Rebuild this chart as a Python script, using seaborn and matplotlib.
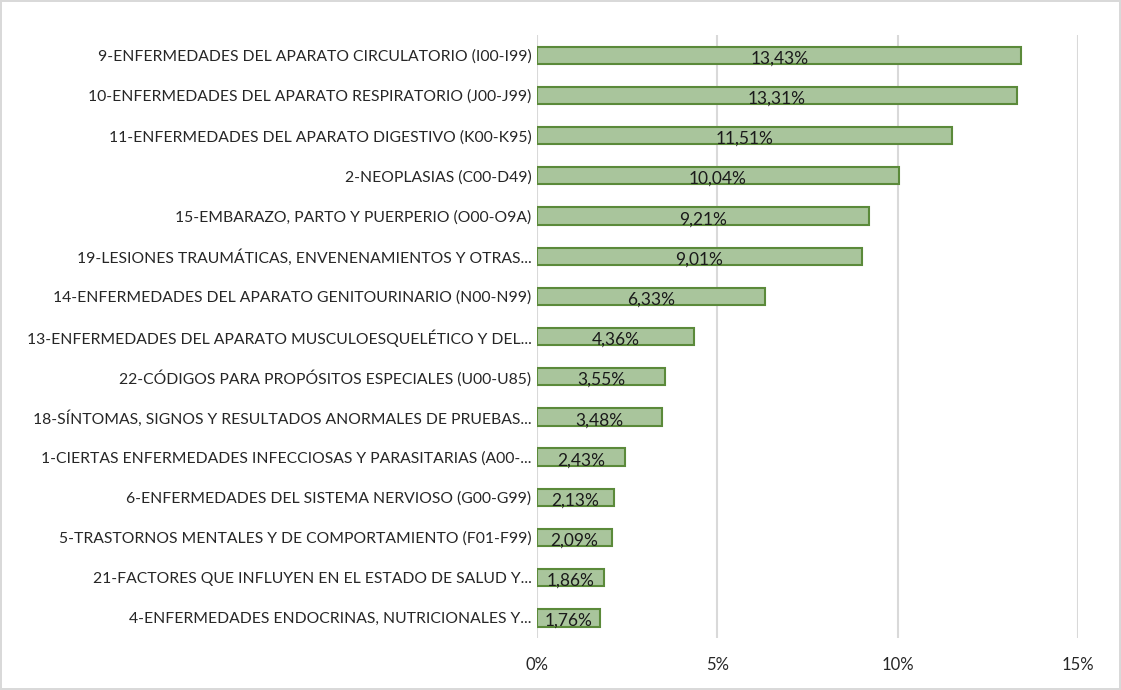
import pandas as pd
import numpy as np
import matplotlib
matplotlib.use("Agg")
import matplotlib.pyplot as plt
import seaborn as sns
from matplotlib.ticker import FuncFormatter

categorias = [
    "9-ENFERMEDADES DEL APARATO CIRCULATORIO (I00-I99)",
    "10-ENFERMEDADES DEL APARATO RESPIRATORIO (J00-J99)",
    "11-ENFERMEDADES DEL APARATO DIGESTIVO (K00-K95)",
    "2-NEOPLASIAS (C00-D49)",
    "15-EMBARAZO, PARTO Y PUERPERIO (O00-O9A)",
    "19-LESIONES TRAUMÁTICAS, ENVENENAMIENTOS Y OTRAS...",
    "14-ENFERMEDADES DEL APARATO GENITOURINARIO (N00-N99)",
    "13-ENFERMEDADES DEL APARATO MUSCULOESQUELÉTICO Y DEL...",
    "22-CÓDIGOS PARA PROPÓSITOS ESPECIALES (U00-U85)",
    "18-SÍNTOMAS, SIGNOS Y RESULTADOS ANORMALES DE PRUEBAS...",
    "1-CIERTAS ENFERMEDADES INFECCIOSAS Y PARASITARIAS (A00-...",
    "6-ENFERMEDADES DEL SISTEMA NERVIOSO (G00-G99)",
    "5-TRASTORNOS MENTALES Y DE COMPORTAMIENTO (F01-F99)",
    "21-FACTORES QUE INFLUYEN EN EL ESTADO DE SALUD Y...",
    "4-ENFERMEDADES ENDOCRINAS, NUTRICIONALES Y...",
]
porcentajes = [13.43, 13.31, 11.51, 10.04, 9.21, 9.01, 6.33, 4.36, 3.55, 3.48,
               2.43, 2.13, 2.09, 1.86, 1.76]

df = pd.DataFrame({"Categoria": categorias, "Porcentaje": porcentajes})

sns.set_theme(style="white")
plt.rcParams["font.family"] = ["Lato", "DejaVu Sans"]

fig = plt.figure(figsize=(11.21, 6.9), dpi=100, linewidth=1.5, edgecolor="#d9d9d9")
ax = fig.add_axes([0.479, 0.0754, 0.4827, 0.8736])

sns.barplot(data=df, x="Porcentaje", y="Categoria", ax=ax, color="#a9c59c",
            edgecolor="#5b8a3a", linewidth=1.5, width=0.43, saturation=1)

# value labels inside the bars
for i, v in enumerate(porcentajes):
    ax.text(v / 2, i + 0.08, f"{v:.2f}%".replace(".", ","), ha="center", va="center",
            fontsize=12.5, color="#1a1a1a")

ax.set_xlim(0, 15)
ax.set_ylim(14.5, -0.5)
ax.set_xticks([0, 5, 10, 15])
ax.xaxis.set_major_formatter(FuncFormatter(lambda x, p: f"{x:.0f}%"))
ax.grid(axis="x", color="#d9d9d9", linewidth=1.5)
ax.set_axisbelow(True)
for s in ax.spines.values():
    s.set_visible(False)
ax.set_xlabel("")
ax.set_ylabel("")
ax.tick_params(axis="x", labelsize=12, colors="#262626", pad=14, length=0)
ax.tick_params(axis="y", labelsize=11.3, colors="#262626", pad=4, length=0)

fig.savefig("out.png", dpi=100, edgecolor=fig.get_edgecolor())
